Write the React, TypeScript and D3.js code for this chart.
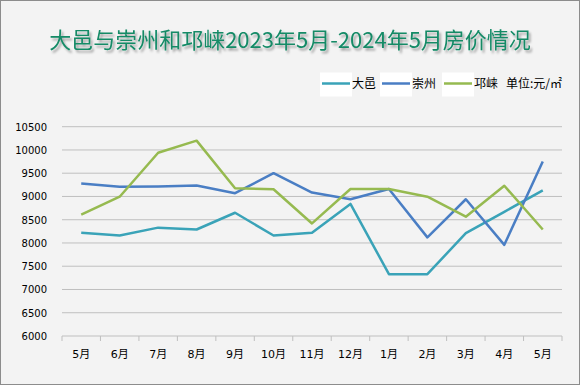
import React from 'react';
import * as d3 from 'd3';

const months = ['5月', '6月', '7月', '8月', '9月', '10月', '11月', '12月', '1月', '2月', '3月', '4月', '5月'];
const dayi = [8220, 8160, 8330, 8290, 8650, 8160, 8220, 8840, 7330, 7330, 8210, 8670, 9130];
const chongzhou = [9280, 9210, 9215, 9235, 9070, 9500, 9085, 8940, 9160, 8120, 8940, 7960, 9750];
const qionglai = [8610, 8995, 9940, 10200, 9175, 9155, 8420, 9160, 9160, 8995, 8565, 9230, 8290];
const yTicks = [6000, 6500, 7000, 7500, 8000, 8500, 9000, 9500, 10000, 10500];

const series = [
  { name: '大邑', values: dayi, color: '#3AA3B8' },
  { name: '崇州', values: chongzhou, color: '#4A7EC4' },
  { name: '邛崃', values: qionglai, color: '#96BA50' },
];

const W = 580;
const H = 385;
const margin = { left: 62, right: 18, top: 126.7, bottom: 49 };

export default function App() {
  const idx = months.map((_, i) => i);
  const x = d3.scaleBand<number>().domain(idx).range([margin.left, W - margin.right]);
  const y = d3.scaleLinear().domain([6000, 10500]).range([H - margin.bottom, margin.top]);
  const line = d3.line<number>()
    .x((_, i) => (x(i) as number) + x.bandwidth() / 2)
    .y(d => y(d));

  const axisY = H - margin.bottom;
  const font = '"DejaVu Sans", "Noto Sans CJK SC", sans-serif';

  return (
    <svg width={W} height={H} style={{ position: 'absolute', left: 0, top: 0 }}>
      <defs>
        <filter id="shadow" x="-10%" y="-30%" width="120%" height="180%">
          <feDropShadow dx="2" dy="2.5" stdDeviation="1.2" floodColor="#000" floodOpacity="0.35" />
        </filter>
      </defs>
      <rect x={0.5} y={0.5} width={W - 1} height={H - 1} fill="#F3F3F3" stroke="#8C8C8C" />
      <text x={290} y={48} textAnchor="middle" fontSize={22}
        fontFamily='"Noto Sans CJK SC", sans-serif' fill="#138A66" filter="url(#shadow)">
        大邑与崇州和邛崃2023年5月-2024年5月房价情况
      </text>

      {/* legend */}
      <g fontFamily='"Noto Sans CJK SC", sans-serif' fontSize={12} fill="#000">
        {series.map((s, i) => {
          const lx = [322, 382, 444][i];
          return (
            <g key={s.name}>
              <rect x={lx - 2} y={72.5} width={32} height={24} fill="#FFFFFF" />
              <line x1={lx} x2={lx + 28} y1={83.5} y2={83.5} stroke={s.color} strokeWidth={2.5} />
              <text x={lx + 30} y={88}>{s.name}</text>
            </g>
          );
        })}
        <text x={506} y={88}>单位:元/㎡</text>
      </g>

      {/* grid */}
      {yTicks.slice(1).map(t => (
        <line key={t} x1={margin.left} x2={W - margin.right} y1={y(t)} y2={y(t)} stroke="#BFBFBF" strokeWidth={1} />
      ))}
      {yTicks.map(t => (
        <text key={'l' + t} x={47} y={y(t) + 4} textAnchor="end" fontSize={10} fontFamily={font} fill="#000">{t}</text>
      ))}

      {/* x axis */}
      <line x1={margin.left} x2={W - margin.right} y1={axisY} y2={axisY} stroke="#BFBFBF" />
      {d3.range(months.length + 1).map(i => {
        const tx = margin.left + i * x.step();
        return <line key={'t' + i} x1={tx} x2={tx} y1={axisY} y2={axisY + 5} stroke="#BFBFBF" />;
      })}
      {months.map((m, i) => (
        <text key={'m' + i} x={(x(i) as number) + x.bandwidth() / 2} y={358} textAnchor="middle"
          fontSize={11} fontFamily={font} fill="#000">{m}</text>
      ))}

      {series.map(s => (
        <path key={s.name} d={line(s.values) || ''} fill="none" stroke={s.color} strokeWidth={2.5}
          strokeLinejoin="round" />
      ))}
    </svg>
  );
}
